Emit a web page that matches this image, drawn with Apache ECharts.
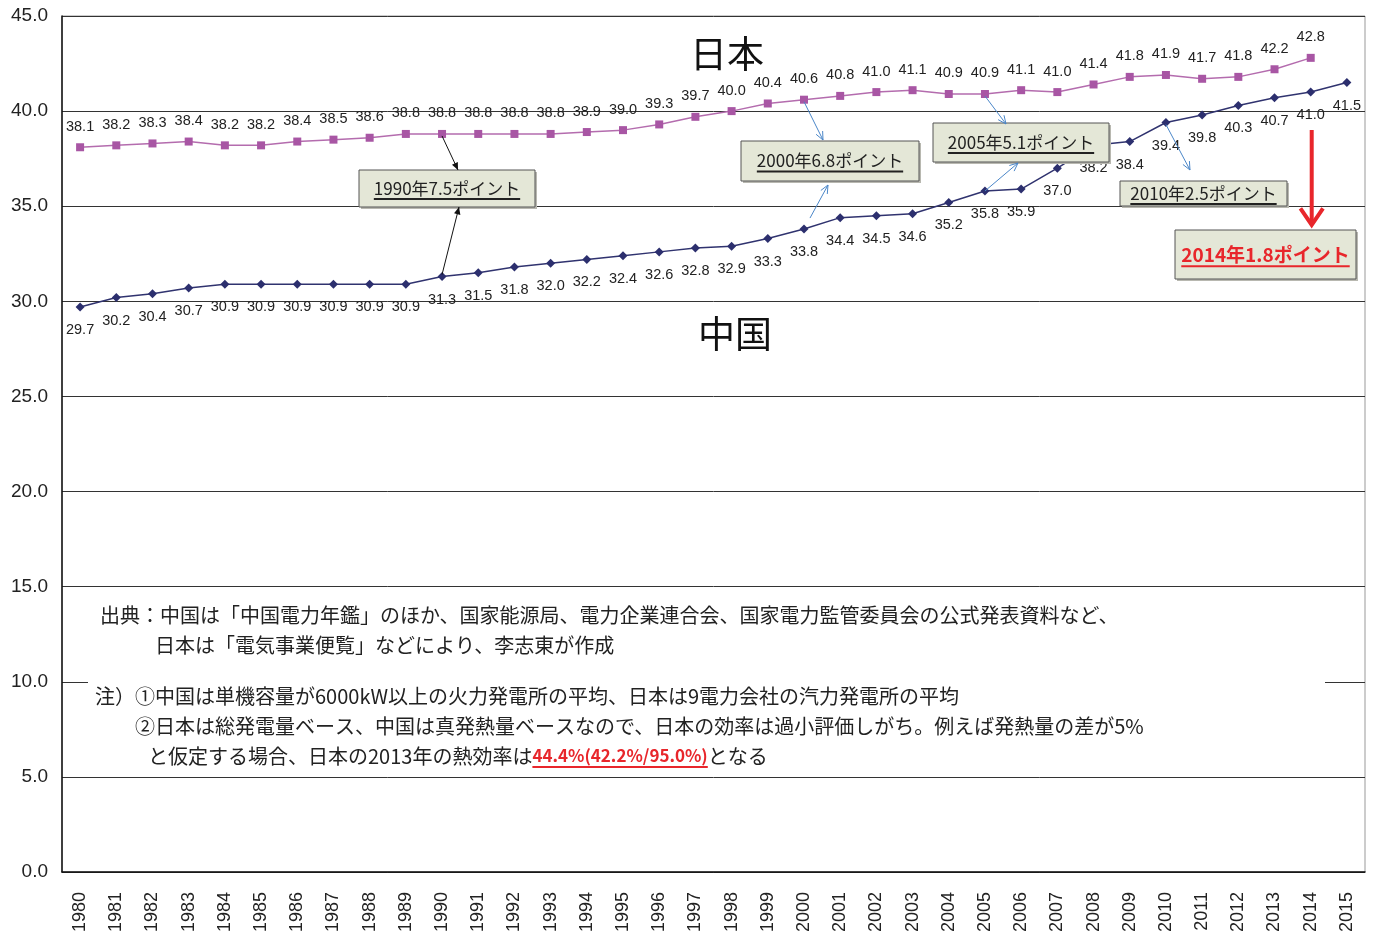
<!DOCTYPE html>
<html>
<head>
<meta charset="utf-8">
<script src="https://cdn.jsdelivr.net/npm/echarts@6/dist/echarts.min.js"></script>
<style>
html, body { margin: 0; padding: 0; background: #fff; }
#main { width: 1377px; height: 939px; }
</style>
</head>
<body>
<div id="main"></div>
<script>
// 年（横軸）
var years = ['1980','1981','1982','1983','1984','1985','1986','1987','1988','1989',
             '1990','1991','1992','1993','1994','1995','1996','1997','1998','1999',
             '2000','2001','2002','2003','2004','2005','2006','2007','2008','2009',
             '2010','2011','2012','2013','2014','2015'];
// 日本の熱効率（1980-2014）
var japan = [38.1, 38.2, 38.3, 38.4, 38.2, 38.2, 38.4, 38.5, 38.6, 38.8,
             38.8, 38.8, 38.8, 38.8, 38.9, 39.0, 39.3, 39.7, 40.0, 40.4,
             40.6, 40.8, 41.0, 41.1, 40.9, 40.9, 41.1, 41.0, 41.4, 41.8,
             41.9, 41.7, 41.8, 42.2, 42.8];
// 中国の熱効率（1980-2015）
var china = [29.7, 30.2, 30.4, 30.7, 30.9, 30.9, 30.9, 30.9, 30.9, 30.9,
             31.3, 31.5, 31.8, 32.0, 32.2, 32.4, 32.6, 32.8, 32.9, 33.3,
             33.8, 34.4, 34.5, 34.6, 35.2, 35.8, 35.9, 37.0, 38.2, 38.4,
             39.4, 39.8, 40.3, 40.7, 41.0, 41.5];
// 縦軸
var yMin = 0, yMax = 45, yStep = 5;

// 格差の注記
var gapNotes = ['1990年7.5ポイント', '2000年6.8ポイント', '2005年5.1ポイント', '2010年2.5ポイント'];
var lastNote = '2014年1.8ポイント';
var noteLines = [
  '出典：中国は「中国電力年鑑」のほか、国家能源局、電力企業連合会、国家電力監管委員会の公式発表資料など、',
  '日本は「電気事業便覧」などにより、李志東が作成',
  '注）①中国は単機容量が6000kW以上の火力発電所の平均、日本は9電力会社の汽力発電所の平均',
  '②日本は総発電量ベース、中国は真発熱量ベースなので、日本の効率は過小評価しがち。例えば発熱量の差が5%',
  'と仮定する場合、日本の2013年の熱効率は', '44.4%(42.2%/95.0%)', 'となる'
];

var SANS = '"Liberation Sans", Arial, sans-serif';
var CJK = '"Noto Sans CJK JP", "Noto Sans", sans-serif';

var myChart = echarts.init(document.getElementById('main'));

var option = {
  animation: false,
  grid: { left: 62, right: 12, top: 16, bottom: 67, show: true, borderColor: '#999', borderWidth: 1 },
  xAxis: {
    type: 'category',
    data: years,
    boundaryGap: true,
    axisLine: { lineStyle: { color: '#111', width: 1.5 } },
    axisTick: { inside: true, length: 6, lineStyle: { color: '#333' } },
    axisLabel: { rotate: 90, margin: 20, fontSize: 18, color: '#222', fontFamily: SANS }
  },
  yAxis: {
    type: 'value',
    min: yMin, max: yMax, interval: yStep,
    axisLine: { show: true, lineStyle: { color: '#111', width: 1.5 } },
    axisTick: { show: false },
    axisLabel: {
      fontSize: 19, color: '#222', fontFamily: SANS, margin: 14,
      formatter: function (v) { return v.toFixed(1); }
    },
    splitLine: { lineStyle: { color: '#333', width: 1 } }
  },
  series: [{
    name: '日本',
    type: 'line',
    data: japan,
    symbol: 'rect',
    symbolSize: 8,
    itemStyle: { color: '#A856A4' },
    lineStyle: { color: '#B46CAE', width: 1.5 },
    label: {
      show: true, position: 'top', distance: 9,
      fontSize: 14.5, color: '#222', fontFamily: SANS,
      formatter: function (p) { return p.value.toFixed(1); }
    },
    z: 3
  }, {
    name: '中国',
    type: 'line',
    data: china,
    symbol: 'diamond',
    symbolSize: 9,
    itemStyle: { color: '#2C2F6E' },
    lineStyle: { color: '#30336F', width: 1.5 },
    label: {
      show: true, position: 'bottom', distance: 11,
      fontSize: 14.5, color: '#222', fontFamily: SANS,
      formatter: function (p) { return p.value.toFixed(1); }
    },
    z: 3
  }]
};

myChart.setOption(option);

// 文字幅を測る
var ctx = document.createElement('canvas').getContext('2d');
function textWidth(text, font) { ctx.font = font; return ctx.measureText(text).width; }

function ptJ(i) { return myChart.convertToPixel({ seriesIndex: 0 }, [i, japan[i]]); }
function ptC(i) { return myChart.convertToPixel({ seriesIndex: 1 }, [i, china[i]]); }

var els = [];

function arrow(x1, y1, x2, y2, color, w, head, filled, spread) {
  var a = Math.atan2(y2 - y1, x2 - x1), s = spread || 0.42;
  var p1 = [x2 - head * Math.cos(a - s), y2 - head * Math.sin(a - s)];
  var p2 = [x2 - head * Math.cos(a + s), y2 - head * Math.sin(a + s)];
  els.push({ type: 'line', z: 120, shape: { x1: x1, y1: y1, x2: x2, y2: y2 }, style: { stroke: color, lineWidth: w } });
  if (filled) {
    els.push({ type: 'polygon', z: 120, shape: { points: [p1, [x2, y2], p2] }, style: { fill: color } });
  } else {
    els.push({ type: 'polyline', z: 120, shape: { points: [p1, [x2, y2], p2] }, style: { stroke: color, lineWidth: w, fill: null } });
  }
}

function box(x, y, w, h, text, size, color, bold) {
  els.push({ type: 'rect', z: 110, shape: { x: x + 2, y: y + 2, width: w, height: h }, style: { fill: '#B8B8B0' } });
  els.push({ type: 'rect', z: 111, shape: { x: x, y: y, width: w, height: h }, style: { fill: '#E4E7D7', stroke: '#555', lineWidth: 1 } });
  var font = (bold ? 'bold ' : '') + size + 'px ' + CJK;
  var tw = textWidth(text, font);
  var cx = x + w / 2, cy = y + h / 2;
  els.push({ type: 'text', z: 112, style: { text: text, x: cx, y: cy, font: font, fill: color, align: 'center', verticalAlign: 'middle' } });
  els.push({ type: 'line', z: 112, shape: { x1: cx - tw / 2, y1: cy + size * 0.62, x2: cx + tw / 2, y2: cy + size * 0.62 },
             style: { stroke: color, lineWidth: 2 } });
}

// 注記の白地
els.push({ type: 'rect', z: 50, shape: { x: 88, y: 598, width: 1237, height: 170 }, style: { fill: '#fff' } });

// 大見出し
els.push({ type: 'text', z: 60, style: { text: '日本', x: 727, y: 54, font: '37px ' + CJK, fill: '#111', align: 'center', verticalAlign: 'middle' } });
els.push({ type: 'text', z: 60, style: { text: '中国', x: 735, y: 334, font: '37px ' + CJK, fill: '#111', align: 'center', verticalAlign: 'middle' } });

// 格差の枠
box(359, 170, 176, 37, gapNotes[0], 17, '#222', false);
box(741, 141, 178, 40, gapNotes[1], 17, '#222', false);
box(933, 123, 176, 39, gapNotes[2], 17, '#222', false);
box(1120, 181, 167, 25, gapNotes[3], 17, '#222', false);
box(1175, 230, 181, 49, lastNote, 19, '#E8262B', true);

// 矢印
var i90 = years.indexOf('1990'), i00 = years.indexOf('2000'), i05 = years.indexOf('2005'), i10 = years.indexOf('2010'), i14 = years.indexOf('2014');
var p;
p = ptJ(i90); arrow(p[0], p[1] + 2, 458, 170, '#111', 1, 8, true);
p = ptC(i90); arrow(p[0], p[1] - 2, 459, 207, '#111', 1, 8, true);
p = ptJ(i00); arrow(p[0], p[1] + 2, 823, 140, '#4A86C8', 1, 9, false);
p = ptC(i00); arrow(p[0] + 6, p[1] - 11, 828, 185, '#4A86C8', 1, 9, false);
p = ptJ(i05); arrow(p[0], p[1] + 2, 1006, 124, '#4A86C8', 1, 9, false);
p = ptC(i05); arrow(p[0], p[1], 1018, 163, '#4A86C8', 1, 9, false);
p = ptC(i10); arrow(p[0], p[1] + 2, 1190, 170, '#4A86C8', 1, 9, false);
p = ptJ(i14); arrow(p[0] + 1, 130, p[0] + 1, 225, '#E8262B', 4, 20, false, 0.6);

// 出典・注
var nf = '20px ' + CJK;
els.push({ type: 'text', z: 60, style: { text: noteLines[0], x: 100, y: 615, font: nf, fill: '#222', verticalAlign: 'middle' } });
els.push({ type: 'text', z: 60, style: { text: noteLines[1], x: 155, y: 645, font: nf, fill: '#222', verticalAlign: 'middle' } });
els.push({ type: 'text', z: 60, style: { text: noteLines[2], x: 95, y: 696, font: nf, fill: '#222', verticalAlign: 'middle' } });
els.push({ type: 'text', z: 60, style: { text: noteLines[3], x: 135, y: 726, font: nf, fill: '#222', verticalAlign: 'middle' } });
var w1 = textWidth(noteLines[4], nf);
var rf = 'bold 17px ' + CJK;
var w2 = textWidth(noteLines[5], rf);
els.push({ type: 'text', z: 60, style: { text: noteLines[4], x: 148, y: 756, font: nf, fill: '#222', verticalAlign: 'middle' } });
els.push({ type: 'text', z: 60, style: { text: noteLines[5], x: 148 + w1, y: 756, font: rf, fill: '#E8262B', verticalAlign: 'middle' } });
els.push({ type: 'line', z: 60, shape: { x1: 148 + w1, y1: 767, x2: 148 + w1 + w2, y2: 767 }, style: { stroke: '#E8262B', lineWidth: 2 } });
els.push({ type: 'text', z: 60, style: { text: noteLines[6], x: 148 + w1 + w2, y: 756, font: nf, fill: '#222', verticalAlign: 'middle' } });

myChart.setOption({ graphic: { elements: els } });
</script>
</body>
</html>
